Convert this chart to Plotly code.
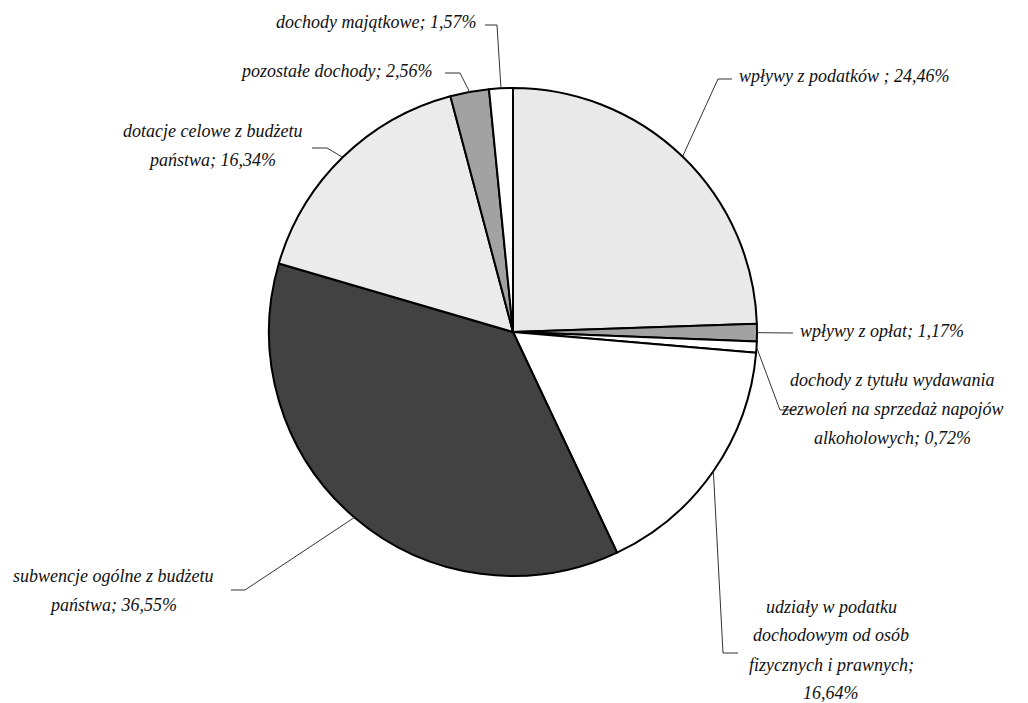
import math
import plotly.graph_objects as go

# ---- data ----
categories = [
    "wpływy z podatków",
    "wpływy z opłat",
    "dochody z tytułu wydawania zezwoleń na sprzedaż napojów alkoholowych",
    "udziały w podatku dochodowym od osób fizycznych i prawnych",
    "subwencje ogólne z budżetu państwa",
    "dotacje celowe z budżetu państwa",
    "pozostałe dochody",
    "dochody majątkowe",
]
values = [24.46, 1.17, 0.72, 16.64, 36.55, 16.34, 2.56, 1.57]
label_lines = [
    ["wpływy z podatków ; 24,46%"],
    ["wpływy z opłat; 1,17%"],
    ["dochody z tytułu wydawania", "zezwoleń na sprzedaż napojów", "alkoholowych; 0,72%"],
    ["udziały w podatku", "dochodowym od osób", "fizycznych i prawnych;", "16,64%"],
    ["subwencje ogólne z budżetu", "państwa; 36,55%"],
    ["dotacje celowe z budżetu", "państwa; 16,34%"],
    ["pozostałe dochody; 2,56%"],
    ["dochody majątkowe; 1,57%"],
]
colors = ["#e9e9e9", "#a2a2a2", "#ffffff", "#ffffff", "#424242", "#ebebeb", "#a2a2a2", "#ffffff"]

# ---- layout (pixels) ----
W, H = 1028, 703
CX, CY, R = 513, 332, 244

# label placement: (x, anchor, [line y...]) and leader elbow points
label_pos = [
    (737, "left", [76]),
    (798, "left", [331]),
    (892, "center", [380, 409, 438]),
    (831, "center", [607, 635, 665, 693]),
    (113, "center", [576, 605]),
    (212, "center", [131, 160]),
    (434, "right", [71]),
    (478, "right", [22]),
]
leader_pts = [
    [(718, 79), (732, 79)],
    [(793, 333)],
    [(780, 410), (797, 410)],
    [(723, 653), (738, 653)],
    [(245, 590), (231, 590)],
    [(327, 148), (312, 148)],
    [(460, 73), (445, 73)],
    [(497, 25), (485, 25)],
]

def px(x):
    return x / W

def py(y):
    return 1 - y / H

fig = go.Figure(go.Pie(
    labels=categories,
    values=values,
    sort=False,
    direction="clockwise",
    rotation=0,
    textinfo="none",
    hoverinfo="label+percent",
    marker=dict(colors=colors, line=dict(color="#000000", width=2)),
    domain=dict(x=[px(CX - R), px(CX + R)], y=[py(CY + R), py(CY - R)]),
    showlegend=False,
))

total = sum(values)
cum = 0.0
shapes = []
annotations = []
font = dict(family="Liberation Serif, serif", size=18, color="#111111", style="italic")
for i, v in enumerate(values):
    mid = (cum + v / 2) / total * 2 * math.pi
    cum += v
    ax = CX + R * math.sin(mid)
    ay = CY - R * math.cos(mid)
    pts = [(ax, ay)] + leader_pts[i]
    path = "M " + " L ".join(f"{px(x):.5f},{py(y):.5f}" for x, y in pts)
    shapes.append(dict(type="path", path=path, xref="paper", yref="paper",
                       line=dict(color="#333333", width=1)))
    lx, anchor, ys = label_pos[i]
    for text, ly in zip(label_lines[i], ys):
        annotations.append(dict(text=text, x=px(lx), y=py(ly), xref="paper", yref="paper",
                                xanchor=anchor, yanchor="middle", showarrow=False, font=font))

fig.update_layout(
    width=W, height=H,
    margin=dict(l=0, r=0, t=0, b=0),
    paper_bgcolor="white", plot_bgcolor="white",
    shapes=shapes, annotations=annotations,
)
fig.write_html("out.html", config={"displayModeBar": False},
               post_script="document.body.style.margin='0';document.body.style.overflow='hidden';")
